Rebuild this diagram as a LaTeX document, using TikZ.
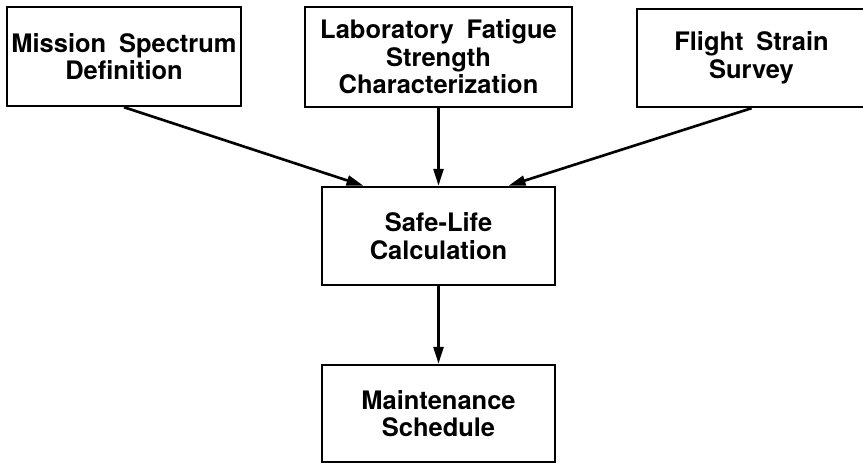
\documentclass[tikz,border=0pt]{standalone}
\usepackage{fontspec}
\setmainfont{TeX Gyre Heros}[WordSpace=1.8]
\usetikzlibrary{arrows.meta}

\begin{document}
\begin{tikzpicture}[
  block/.style={draw,line width=1.4pt,inner sep=0pt,align=center,
    font=\fontsize{14.5}{15.6}\selectfont\bfseries},
  flow/.style={-{Triangle[length=3.4mm,width=2mm]},line width=1.5pt}
]
  \useasboundingbox (0,0) rectangle (17.26,-9.28);
  \node[block,minimum width=46.8mm,minimum height=19.8mm] (mission) at (2.48,-1.13) {Mission Spectrum\\Definition};
  \node[block,minimum width=53.4mm,minimum height=20mm] (strength) at (8.77,-1.14) {Laboratory Fatigue\\Strength\\Characterization};
  \node[block,minimum width=45.8mm,minimum height=19.6mm] (survey) at (15.03,-1.16) {Flight Strain\\Survey};
  \node[block,minimum width=46.6mm,minimum height=19.6mm] (safelife) at (8.77,-4.72) {Safe-Life\\Calculation};
  \node[block,minimum width=46.6mm,minimum height=19.4mm] (schedule) at (8.77,-8.27) {Maintenance\\Schedule};

  \path[flow]
    (mission.south) edge ([xshift=-1.5cm]safelife.north)
    (strength.south) edge (safelife.north)
    (survey.south) edge ([xshift=1.4cm]safelife.north)
    (safelife.south) edge (schedule.north);
\end{tikzpicture}
\end{document}
